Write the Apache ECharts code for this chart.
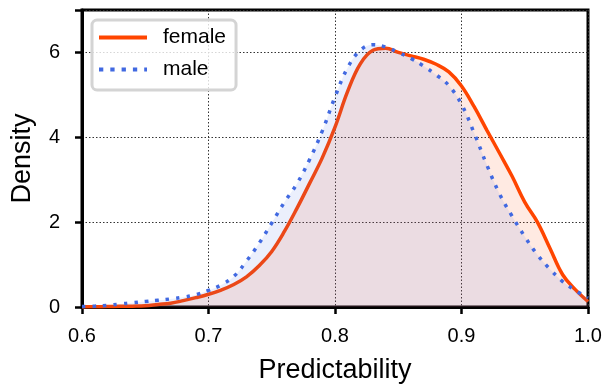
<!DOCTYPE html>
<html>
<head>
<meta charset="utf-8">
<script src="https://cdn.jsdelivr.net/npm/echarts@6/dist/echarts.min.js"></script>
<style>
  html, body { margin: 0; padding: 0; background: #fff; }
  #chart { width: 605px; height: 389px; }
</style>
</head>
<body>
<div id="chart"></div>
<script>
// predictability grid (x) and KDE density per group
const predictability = [
  0.60, 0.61, 0.62, 0.63, 0.64, 0.65, 0.66, 0.67, 0.68, 0.69,
  0.70, 0.71, 0.72, 0.73, 0.74, 0.75, 0.76, 0.77, 0.78, 0.79,
  0.80, 0.81, 0.82, 0.83, 0.84, 0.85, 0.86, 0.87, 0.88, 0.89,
  0.90, 0.91, 0.92, 0.93, 0.94, 0.95, 0.96, 0.97, 0.98, 0.99, 1.00
];
const femaleDensity = [
  0.00, 0.005, 0.01, 0.015, 0.02, 0.03, 0.06, 0.09, 0.15, 0.22,
  0.30, 0.40, 0.53, 0.71, 0.97, 1.31, 1.78, 2.33, 2.92, 3.52,
  4.24, 5.08, 5.73, 6.05, 6.10, 6.00, 5.92, 5.84, 5.72, 5.54,
  5.21, 4.72, 4.17, 3.63, 3.08, 2.47, 2.00, 1.38, 0.76, 0.41, 0.13
];
const maleDensity = [
  0.01, 0.02, 0.04, 0.07, 0.10, 0.13, 0.16, 0.19, 0.23, 0.29,
  0.39, 0.52, 0.72, 1.08, 1.50, 1.98, 2.47, 2.91, 3.48, 4.15,
  4.95, 5.64, 6.05, 6.18, 6.13, 6.00, 5.86, 5.68, 5.47, 5.22,
  4.78, 4.10, 3.35, 2.67, 2.14, 1.66, 1.23, 0.89, 0.60, 0.39, 0.22
];
const groups = ['female', 'male'];

// legend swatches: solid bar for female, square dots for male
const legendIcons = {
  female: 'path://M0,0H48V4H0Z',
  male: 'path://M0,0h4.3v4h-4.3z M11.3,0h4.3v4h-4.3z M22.6,0h4.3v4h-4.3z M33.9,0h4.3v4h-4.3z M45.2,0h2.8v4h-2.8z'
};

const FONT = '"Liberation Sans", Arial, sans-serif';
const chart = echarts.init(document.getElementById('chart'), null, { renderer: 'canvas' });

const toPoints = (ys) => predictability.map((x, i) => [x, ys[i]]);

const gridLine = { show: true, lineStyle: { color: '#333', width: 1, type: [1.5, 2] } };
const axisLine = { show: true, lineStyle: { color: '#000', width: 3 } };
const axisTick = { show: true, length: 7, lineStyle: { color: '#000', width: 2.5 } };

const option = {
  animation: false,
  backgroundColor: '#fff',
  grid: {
    left: 82, right: 17, top: 10, bottom: 80,
    show: true,
    borderColor: '#000',
    borderWidth: 3
  },
  legend: {
    data: groups.map(g => ({ name: g, icon: legendIcons[g] })),
    orient: 'vertical',
    left: 92, top: 20,
    padding: [7, 10, 10, 7],
    itemWidth: 48,
    itemHeight: 4,
    itemGap: 11,
    itemStyle: { borderWidth: 0 },
    backgroundColor: 'rgba(255,255,255,0.8)',
    borderColor: '#d4d4d4',
    borderWidth: 3,
    borderRadius: 5,
    textStyle: { fontFamily: FONT, fontSize: 21, color: '#000', padding: [0, 0, 0, 11] }
  },
  xAxis: {
    type: 'value',
    min: 0.6, max: 1.0, interval: 0.1,
    name: 'Predictability',
    nameLocation: 'middle',
    nameGap: 50,
    nameTextStyle: { fontFamily: FONT, fontSize: 27, color: '#000' },
    axisLine: axisLine,
    axisTick: axisTick,
    axisLabel: {
      fontFamily: FONT, fontSize: 20, color: '#000', margin: 19,
      formatter: (v) => v.toFixed(1)
    },
    splitLine: gridLine
  },
  yAxis: {
    type: 'value',
    min: 0, max: 7, interval: 2,
    name: 'Density',
    nameLocation: 'middle',
    nameGap: 46,
    nameTextStyle: { fontFamily: FONT, fontSize: 27, color: '#000' },
    axisLine: axisLine,
    axisTick: axisTick,
    axisLabel: {
      fontFamily: FONT, fontSize: 20, color: '#000', margin: 22,
      formatter: (v) => (v % 2 === 0 ? String(v) : '')
    },
    splitLine: gridLine
  },
  series: [
    {
      name: 'female',
      type: 'line',
      smooth: 0.4,
      symbol: 'none',
      data: toPoints(femaleDensity),
      itemStyle: { color: '#ff4500' },
      lineStyle: { color: '#ff4500', width: 3.5 },
      areaStyle: { color: 'rgba(255, 69, 0, 0.16)' },
      z: 2
    },
    {
      name: 'male',
      type: 'line',
      smooth: 0.4,
      symbol: 'none',
      data: toPoints(maleDensity),
      itemStyle: { color: '#4169e1' },
      lineStyle: { color: '#4169e1', width: 3.5, type: [3.5, 7], cap: 'butt' },
      areaStyle: { color: 'rgba(65, 105, 225, 0.15)' },
      z: 3
    }
  ]
};

chart.setOption(option);
</script>
</body>
</html>
